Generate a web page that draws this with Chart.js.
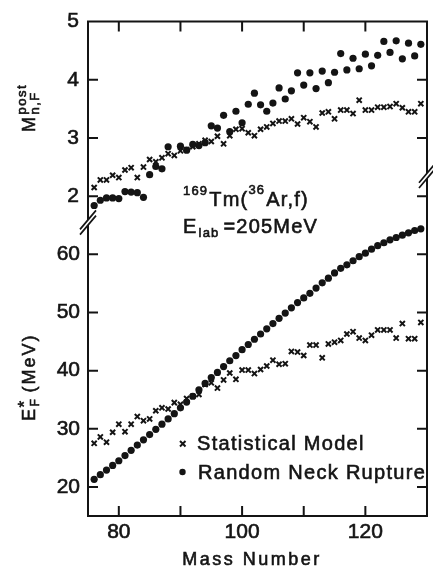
<!DOCTYPE html>
<html>
<head>
<meta charset="utf-8">
<script src="https://cdn.jsdelivr.net/npm/chart.js@4.4.0/dist/chart.umd.min.js"></script>
<style>
  html, body { margin: 0; padding: 0; background: #fff; }
  #wrap { width: 433px; height: 573px; }
</style>
</head>
<body>
<div id="wrap"><canvas id="myChart"></canvas></div>
<script>
// fragment mass numbers
const massNumbers = [76, 77, 78, 79, 80, 81, 82, 83, 84, 85, 86, 87, 88, 89, 90, 91, 92, 93, 94, 95,
  96, 97, 98, 99, 100, 101, 102, 103, 104, 105, 106, 107, 108, 109, 110, 111, 112, 113, 114, 115,
  116, 117, 118, 119, 120, 121, 122, 123, 124, 125, 126, 127, 128, 129];

// post-scission neutron multiplicity M(n,F)
const multStatistical = [2.15, 2.28, 2.28, 2.36, 2.32, 2.45, 2.49, 2.32, 2.50, 2.63, 2.59, 2.66, 2.73, 2.70, 2.78, 2.80, 2.85, 2.90, 2.96, 2.94,
  3.03, 2.90, 3.04, 3.15, 3.16, 3.09, 3.04, 3.15, 3.19, 3.25, 3.29, 3.29, 3.33, 3.24, 3.35, 3.28, 3.19, 3.43, 3.45, 3.33,
  3.48, 3.48, 3.42, 3.65, 3.48, 3.48, 3.53, 3.53, 3.54, 3.59, 3.52, 3.45, 3.45, 3.59];
const multNeckRupture = [1.84, 1.93, 1.97, 1.97, 1.96, 2.08, 2.07, 2.06, 1.98, 2.37, 2.51, 2.47, 2.85, null, 2.86, 2.79, 2.89, 2.87, 2.92, 3.21,
  3.17, 3.39, 3.11, 3.46, 3.26, 3.58, 3.77, 3.57, 3.46, 3.60, 3.86, 3.67, 3.81, 4.12, 3.91, 4.12, 3.85, 4.15, 3.95, 4.13,
  4.45, 4.17, 4.37, 4.19, 4.44, 4.24, 4.42, 4.66, 4.47, 4.67, 4.36, 4.63, 4.41, 4.61];

// fragment excitation energy E*F in MeV
const energyStatistical = [27.5, 28.6, 27.7, 29.4, 30.8, 29.5, 30.8, 32.1, 31.4, 31.7, 33.1, 33.6, 33.4, 34.5, 34.2, 35.2, 35.6, 35.9, 37.6, 37.9,
  37.0, 38.4, 39.6, 38.5, 40.1, 40.1, 39.5, 40.2, 40.8, 41.8, 41.1, 41.2, 43.3, 43.2, 42.6, 44.4, 44.4, 42.2, 44.6, 44.9,
  45.2, 46.3, 46.7, 45.6, 45.2, 46.1, 47.0, 47.0, 47.0, 45.6, 48.1, 45.5, 45.5, 48.3];
const energyNeckRupture = [21.3, 22.1, 22.9, 23.7, 24.5, 25.4, 26.3, 27.2, 28.1, 29.0, 29.9, 30.8, 31.7, 32.6, 33.6, 34.6, 35.6, 36.7, 37.8, 38.8,
  39.7, 40.7, 41.7, 42.6, 43.6, 44.5, 45.4, 46.3, 47.2, 48.1, 49.0, 49.9, 50.8, 51.7, 52.5, 53.3, 54.2, 55.1, 55.9, 56.8,
  57.6, 58.2, 58.9, 59.6, 60.2, 60.9, 61.5, 62.0, 62.5, 62.9, 63.3, 63.7, 64.1, 64.4];

// ticks
const xTicks = [80, 90, 100, 110, 120];
const xTickLabels = [80, 100, 120];
const multTicks = [2, 3, 4, 5];
const energyTicks = [20, 30, 40, 50, 60];
const multRightTicks = [3, 4];
const energyRightTicks = [20, 30, 40, 50, 60, 70];

const legendLabels = ['Statistical Model', 'Random Neck Rupture'];

const ink = '#141414';
const fam = "'Liberation Sans', Arial, sans-serif";

function pts(ys) {
  return massNumbers.map(function (m, i) { return { x: m, y: ys[i] }; });
}

// fill + thin stroke so the lettering comes out a bit heavier
function ink_text(ctx, t, x, y) {
  ctx.strokeText(t, x, y);
  ctx.fillText(t, x, y);
}

// text pieces drawn one after the other: [text, size, baseline shift, gap after]
function drawRich(ctx, parts, x, y) {
  let cx = x;
  parts.forEach(function (p) {
    ctx.font = p[1] + 'px ' + fam;
    ink_text(ctx, p[0], cx, y + p[2]);
    cx += ctx.measureText(p[0]).width + (p[3] || 0);
  });
  return cx;
}

// the "//" axis break
function drawBreak(ctx, cx, cy) {
  const dx = 8, dy = 9.5, off = 2.6;
  ctx.save();
  ctx.fillStyle = '#fff';
  ctx.beginPath();
  ctx.moveTo(cx - dx, cy - off + dy);
  ctx.lineTo(cx + dx, cy - off - dy);
  ctx.lineTo(cx + dx, cy + off - dy);
  ctx.lineTo(cx - dx, cy + off + dy);
  ctx.closePath();
  ctx.fill();
  ctx.strokeStyle = ink;
  ctx.lineWidth = 1.7;
  ctx.beginPath();
  ctx.moveTo(cx - dx, cy - off + dy); ctx.lineTo(cx + dx, cy - off - dy);
  ctx.moveTo(cx - dx, cy + off + dy); ctx.lineTo(cx + dx, cy + off - dy);
  ctx.stroke();
  ctx.restore();
}

const frameAndText = {
  id: 'frameAndText',
  afterDraw(chart) {
    const ctx = chart.ctx;
    const a = chart.chartArea;
    const xs = chart.scales.x, yt = chart.scales.yTop, yb = chart.scales.yBot;
    const tl = 10;
    ctx.save();
    ctx.strokeStyle = ink;
    ctx.lineWidth = 2;
    ctx.beginPath();
    ctx.rect(a.left, a.top, a.right - a.left, a.bottom - a.top);
    xTicks.forEach(function (v) {
      const px = xs.getPixelForValue(v);
      ctx.moveTo(px, a.bottom); ctx.lineTo(px, a.bottom - tl);
      ctx.moveTo(px, a.top); ctx.lineTo(px, a.top + tl);
    });
    multTicks.filter(function (v) { return v < 5; }).forEach(function (v) {
      const py = yt.getPixelForValue(v);
      ctx.moveTo(a.left, py); ctx.lineTo(a.left + tl, py);
    });
    energyTicks.forEach(function (v) {
      const py = yb.getPixelForValue(v);
      ctx.moveTo(a.left, py); ctx.lineTo(a.left + tl, py);
    });
    multRightTicks.forEach(function (v) {
      const py = yt.getPixelForValue(v);
      ctx.moveTo(a.right, py); ctx.lineTo(a.right - tl, py);
    });
    energyRightTicks.forEach(function (v) {
      const py = yb.getPixelForValue(v);
      ctx.moveTo(a.right, py); ctx.lineTo(a.right - tl, py);
    });
    ctx.stroke();

    drawBreak(ctx, a.left, yt.bottom + 3);
    drawBreak(ctx, a.right, yb.getPixelForValue(73.5));

    ctx.fillStyle = ink;
    ctx.strokeStyle = ink;
    ctx.lineWidth = 0.6;
    ctx.textBaseline = 'alphabetic';
    ctx.letterSpacing = '1.2px';

    // reaction label
    drawRich(ctx, [['169', 13, -11.5, 1], ['Tm(', 20, 0, 0], ['36', 13, -12, 1], ['Ar,f)', 20, 0]], 183, 206);
    drawRich(ctx, [['E', 20, 0, 1], ['lab', 13, 4, 4], ['=205MeV', 20, 0]], 183, 233);

    // legend
    ctx.save();
    ctx.lineWidth = 2;
    ctx.beginPath();
    ctx.moveTo(180, 441); ctx.lineTo(185.5, 446.5);
    ctx.moveTo(185.5, 441); ctx.lineTo(180, 446.5);
    ctx.stroke();
    ctx.restore();
    ctx.beginPath();
    ctx.arc(182.5, 472, 3.2, 0, Math.PI * 2);
    ctx.fill();
    ctx.letterSpacing = '1.3px';
    drawRich(ctx, [[legendLabels[0], 20, 0]], 197, 450);
    drawRich(ctx, [[legendLabels[1], 20, 0]], 198, 479);

    // x title
    ctx.letterSpacing = '2.5px';
    ctx.font = '18px ' + fam;
    ctx.textAlign = 'center';
    ink_text(ctx, 'Mass Number', 252, 565);
    ctx.textAlign = 'left';

    // y titles, rotated
    ctx.letterSpacing = '1.5px';
    ctx.save();
    ctx.translate(35, 132);
    ctx.rotate(-Math.PI / 2);
    ctx.font = '18px ' + fam;
    const wM = ctx.measureText('M').width;
    ink_text(ctx, 'M', 0, 0);
    ctx.font = '13px ' + fam;
    ink_text(ctx, 'post', wM + 1, -9);
    ink_text(ctx, 'n,F', wM + 1, 4);
    ctx.restore();

    ctx.save();
    ctx.translate(35, 421);
    ctx.rotate(-Math.PI / 2);
    ctx.font = '18px ' + fam;
    const wE = ctx.measureText('E').width;
    ink_text(ctx, 'E', 0, 0);
    ctx.font = '17px ' + fam;
    ink_text(ctx, '*', wE, -5);
    ctx.font = '12px ' + fam;
    ink_text(ctx, 'F', wE + 1, 4);
    ctx.font = '18px ' + fam;
    ctx.letterSpacing = '2px';
    ink_text(ctx, '(MeV)', wE + 15, 0);
    ctx.restore();

    ctx.restore();
  }
};

const tickFont = { family: fam, size: 21 };

const data = {
  datasets: [
    {
      label: legendLabels[0], yAxisID: 'yTop', data: pts(multStatistical),
      pointStyle: 'crossRot', pointRadius: 3.6, borderWidth: 2, borderColor: ink, backgroundColor: ink
    },
    {
      label: legendLabels[1], yAxisID: 'yTop', data: pts(multNeckRupture),
      pointStyle: 'circle', pointRadius: 3.6, borderWidth: 0, borderColor: ink, backgroundColor: ink
    },
    {
      label: legendLabels[0], yAxisID: 'yBot', data: pts(energyStatistical),
      pointStyle: 'crossRot', pointRadius: 3.6, borderWidth: 2, borderColor: ink, backgroundColor: ink
    },
    {
      label: legendLabels[1], yAxisID: 'yBot', data: pts(energyNeckRupture),
      pointStyle: 'circle', pointRadius: 3.6, borderWidth: 0, borderColor: ink, backgroundColor: ink
    }
  ]
};

const config = {
  type: 'scatter',
  data: data,
  options: {
    responsive: true,
    maintainAspectRatio: false,
    animation: false,
    events: [],
    layout: { padding: { top: 13, right: 0, left: 0, bottom: 0 } },
    plugins: {
      legend: { display: false },
      tooltip: { enabled: false }
    },
    scales: {
      x: {
        type: 'linear', position: 'bottom', min: 75, max: 130,
        grid: { display: false, drawTicks: false },
        border: { display: false },
        afterBuildTicks: function (s) { s.ticks = xTicks.map(function (v) { return { value: v }; }); },
        afterFit: function (s) { s.height = 57; },
        ticks: {
          font: tickFont, color: ink, padding: 4, maxRotation: 0, autoSkip: false,
          textStrokeColor: ink, textStrokeWidth: 0.6,
          callback: function (v) { return xTickLabels.indexOf(v) >= 0 ? String(v) : ''; }
        }
      },
      yTop: {
        type: 'linear', position: 'left', stack: 'panels', stackWeight: 201.4, weight: 1,
        min: 1.6, max: 5,
        grid: { display: false, drawTicks: false },
        border: { display: false },
        afterBuildTicks: function (s) { s.ticks = multTicks.map(function (v) { return { value: v }; }); },
        afterFit: function (s) { s.width = 88; },
        ticks: { font: tickFont, color: ink, padding: 9, autoSkip: false, textStrokeColor: ink, textStrokeWidth: 0.6 }
      },
      yBot: {
        type: 'linear', position: 'left', stack: 'panels', stackWeight: 301.8, weight: 0,
        min: 15, max: 66,
        grid: { display: false, drawTicks: false },
        border: { display: false },
        afterBuildTicks: function (s) { s.ticks = energyTicks.map(function (v) { return { value: v }; }); },
        afterFit: function (s) { s.width = 88; },
        ticks: { font: tickFont, color: ink, padding: 8, autoSkip: false, textStrokeColor: ink, textStrokeWidth: 0.6 }
      }
    }
  },
  plugins: [frameAndText]
};

const myChart = new Chart(document.getElementById('myChart'), config);
</script>
</body>
</html>
